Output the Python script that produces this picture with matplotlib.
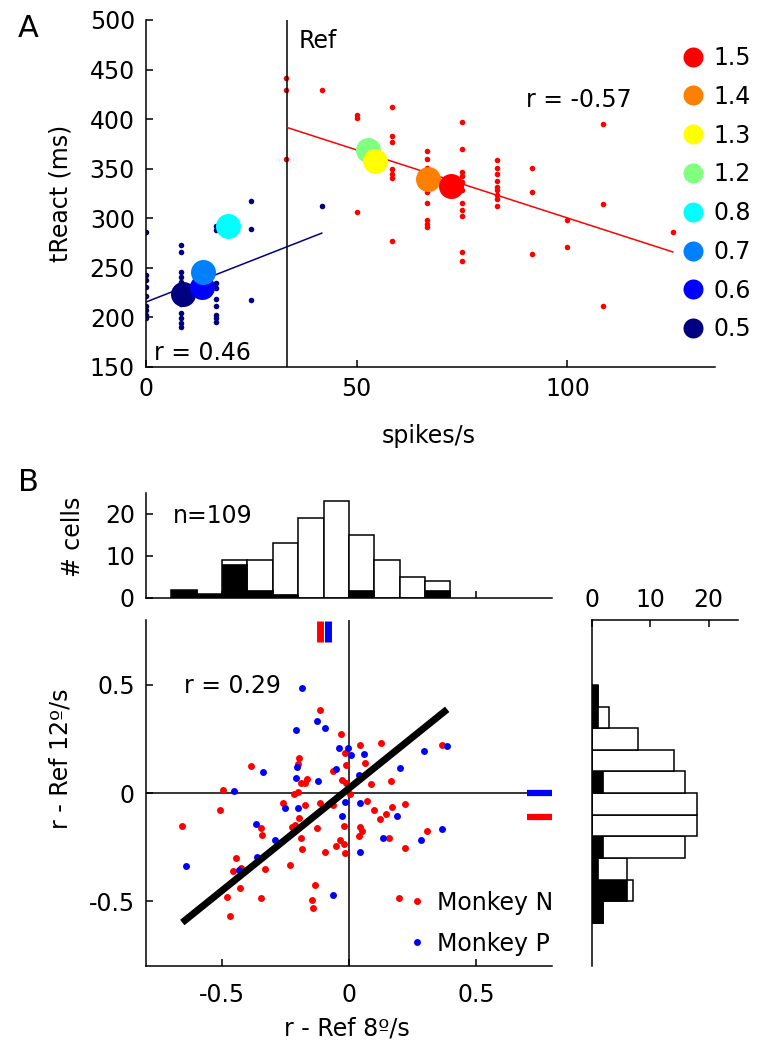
import numpy as np
import matplotlib
matplotlib.use('Agg')
import matplotlib.pyplot as plt

plt.rcParams['font.family'] = ['DejaVu Sans']
plt.rcParams['font.size'] = 17

# ---- Panel A data ----
navy_cols_x = [0, 8.33, 16.67, 25, 41.67]
navy_cols_y = [[286, 243, 238, 231, 222, 212, 207, 202, 199],
               [273, 266, 246, 241, 236, 230, 222, 214, 204, 199, 194, 190],
               [292, 288, 235, 230, 219, 211, 202, 199, 195],
               [317, 289, 218],
               [312]]
red_cols_x = [33.33, 41.67, 50, 58.33, 66.67, 75, 83.33, 91.67, 100, 108.33, 125]
red_cols_y = [[441, 429, 360],
              [429],
              [404, 401, 306],
              [412, 383, 377, 350, 345, 341, 277],
              [368, 360, 351, 339, 326, 315, 298, 294, 291],
              [397, 370, 347, 343, 337, 328, 315, 308, 302, 266, 257],
              [359, 351, 345, 338, 332, 328, 323, 319, 312],
              [351, 326, 264],
              [298, 271],
              [395, 314, 211],
              [286]]
speeds = ['0.5', '0.6', '0.7', '0.8', '1.2', '1.3', '1.4', '1.5']
speed_x = [8.8, 13.3, 13.6, 19.4, 52.7, 54.4, 67.0, 72.4]
speed_y = [224, 231, 246, 292, 369, 358, 340, 333]
speed_colors = ['#000080', '#0000ff', '#0080ff', '#00ffff', '#80ff80', '#ffff00', '#ff8000', '#ff0000']
ref_x = 33.5
navy_fit_x = [0, 41.7]
navy_fit_y = [215.5, 285]
red_fit_x = [33.5, 125]
red_fit_y = [391.5, 266]

# ---- Panel B data ----
bin_edges = [-0.7, -0.6, -0.5, -0.4, -0.3, -0.2, -0.1, 0.0, 0.1, 0.2, 0.3]
top_total = [2, 1, 9, 9, 13, 19, 23, 15, 9, 5, 4]
top_black = [2, 1, 8, 2, 1, 0, 0, 2, 0, 0, 2]
right_edges = [-0.6, -0.5, -0.4, -0.3, -0.2, -0.1, 0.0, 0.1, 0.2, 0.3, 0.4]
right_total = [2, 7, 6, 16, 18, 18, 16, 14, 8, 3, 1]
right_black = [2, 6, 1, 2, 0, 0, 2, 0, 0, 1, 1]

monkN_x = [-0.113, -0.030, 0.042, 0.125, -0.017, -0.198, -0.385, -0.201, -0.013, 0.062,
           -0.063, -0.165, -0.188, -0.175, -0.026, -0.013, 0.088, 0.164, -0.496, -0.201,
           -0.218, 0.003, -0.260, -0.175, -0.116, -0.063, 0.072, 0.171, 0.219, -0.507,
           0.098, 0.144, 0.123, -0.197, -0.657, -0.345, -0.224, -0.214, -0.125, -0.021,
           0.042, 0.052, 0.307, -0.341, -0.188, 0.038, 0.157, -0.185, -0.096, -0.052,
           -0.034, -0.021, -0.017, 0.219, -0.444, -0.424, -0.457, -0.332, -0.232, -0.430,
           -0.135, -0.480, -0.345, -0.144, -0.142, -0.470, 0.196, 0.366]
monkN_y = [0.382, 0.274, 0.222, 0.233, 0.183, 0.163, 0.125, 0.133, 0.129, 0.139,
           0.102, 0.063, 0.048, 0.045, 0.060, 0.048, 0.043, 0.054, 0.014, 0.005,
           -0.006, -0.003, -0.045, -0.055, -0.045, -0.055, -0.037, -0.063, -0.049, -0.080,
           -0.080, -0.099, -0.122, -0.114, -0.153, -0.163, -0.156, -0.148, -0.163, -0.153,
           -0.157, -0.176, -0.176, -0.194, -0.206, -0.199, -0.206, -0.260, -0.271, -0.245,
           -0.219, -0.237, -0.276, -0.256, -0.302, -0.345, -0.361, -0.353, -0.334, -0.438,
           -0.425, -0.481, -0.484, -0.495, -0.530, -0.569, -0.484, 0.222]
monkP_x = [-0.185, -0.127, -0.096, -0.207, -0.039, -0.004, 0.009, 0.059, 0.295, 0.387,
           -0.205, -0.051, 0.202, -0.337, -0.209, -0.122, 0.038, -0.454, -0.017, 0.042,
           -0.252, -0.201, -0.026, 0.189, -0.365, 0.367, -0.290, 0.133, 0.285, 0.042,
           -0.361, -0.644, -0.433, -0.064]
monkP_y = [0.487, 0.333, 0.302, 0.290, 0.210, 0.210, 0.176, 0.182, 0.194, 0.217,
           0.122, 0.112, 0.117, 0.099, 0.071, 0.055, 0.083, 0.009, -0.040, -0.045,
           -0.068, -0.068, -0.106, -0.106, -0.145, -0.168, -0.216, -0.208, -0.216, -0.271,
           -0.294, -0.339, -0.357, -0.473]
fit_x = [-0.657, 0.387]
fit_y = [-0.599, 0.387]
meanN_x, meanP_x = -0.113, -0.083
meanN_y, meanP_y = -0.11, 0.0

fig = plt.figure(figsize=(7.68, 10.5), dpi=100)


def style(ax, left=True, bottom=True, top=False, right=False):
    for s, v in zip(['left', 'bottom', 'top', 'right'], [left, bottom, top, right]):
        ax.spines[s].set_visible(v)
        ax.spines[s].set_linewidth(1.1)
    ax.tick_params(direction='in', length=5, width=1.1)


# ---------- Panel A ----------
axA = fig.add_axes([0.1901, 0.6505, 0.7409, 0.3305])
style(axA)
for cx, cy in zip(navy_cols_x, navy_cols_y):
    axA.plot([cx] * len(cy), cy, 'o', color='#000080', ms=4, mew=0, zorder=2)
for cx, cy in zip(red_cols_x, red_cols_y):
    axA.plot([cx] * len(cy), cy, 'o', color='#ff0000', ms=4, mew=0, zorder=2)
axA.plot(navy_fit_x, navy_fit_y, color='#000080', lw=1.1, zorder=3)
axA.plot(red_fit_x, red_fit_y, color='#ff0000', lw=1.1, zorder=3)
axA.axvline(ref_x, color='k', lw=1.1)
handles = []
for s, x, y, c in zip(speeds, speed_x, speed_y, speed_colors):
    h, = axA.plot(x, y, 'o', color=c, ms=18, mew=0, label=s, zorder=4)
    handles.append(h)
axA.set_xlim(0, 135)
axA.set_ylim(150, 500)
axA.set_xticks([0, 50, 100])
axA.set_yticks(range(150, 501, 50))
axA.tick_params(axis='y', pad=8)
axA.tick_params(axis='x', pad=7)
axA.set_xlabel('spikes/s', va='top')
axA.xaxis.set_label_coords(0.496, -0.165)
axA.set_ylabel('tReact (ms)')
axA.yaxis.set_label_coords(-0.13, 0.5)
axA.text(90.2, 419, 'r = -0.57', va='center')
axA.text(1.9, 164, 'r = 0.46', va='center')
axA.text(36.1, 478.5, 'Ref', va='center')
axA.legend(handles[::-1], speeds[::-1], loc='upper left',
           bbox_to_anchor=(681.2 / 768, 1 - 46 / 1050), bbox_transform=fig.transFigure,
           frameon=False, borderpad=0, borderaxespad=0, handlelength=1.0,
           handletextpad=0.35, labelspacing=0.625, markerscale=0.8)
fig.text(0.023, 0.987, 'A', fontsize=22, va='top')

# ---------- Panel B top histogram ----------
axH = fig.add_axes([0.1901, 0.4305, 0.5286, 0.1])
style(axH)
axH.bar(bin_edges, top_total, width=0.1, align='edge', color='white', edgecolor='k', lw=1.1)
axH.bar(bin_edges, top_black, width=0.1, align='edge', color='k', edgecolor='k', lw=0.5)
axH.set_xlim(-0.8, 0.8)
axH.set_ylim(0, 25)
axH.set_xticks([-0.5, 0, 0.5])
axH.set_xticklabels([])
axH.set_yticks([0, 10, 20])
axH.tick_params(axis='y', pad=8)
axH.set_ylabel('# cells')
axH.yaxis.set_label_coords(-0.15, 0.58)
axH.text(-0.693, 19.6, 'n=109', va='center')
fig.text(0.023, 1 - 468 / 1050, 'B', fontsize=22, va='top')

# ---------- Panel B scatter ----------
axS = fig.add_axes([0.1901, 0.08, 0.5286, 0.3295])
style(axS)
axS.axhline(0, color='k', lw=1.1, zorder=1)
axS.axvline(0, color='k', lw=1.1, zorder=1)
axS.plot(monkN_x, monkN_y, 'o', color='#ff0000', ms=5, mew=0, label='Monkey N', zorder=2)
axS.plot(monkP_x, monkP_y, 'o', color='#0000ff', ms=5, mew=0, label='Monkey P', zorder=2)
axS.plot(fit_x, fit_y, color='k', lw=5, solid_capstyle='butt', zorder=3)
axS.plot([meanN_x, meanN_x], [0.70, 0.795], color='#ff0000', lw=5, solid_capstyle='butt')
axS.plot([meanP_x, meanP_x], [0.70, 0.795], color='#0000ff', lw=5, solid_capstyle='butt')
axS.plot([0.70, 0.80], [meanP_y, meanP_y], color='#0000ff', lw=4.5, solid_capstyle='butt', clip_on=False)
axS.plot([0.70, 0.80], [meanN_y, meanN_y], color='#ff0000', lw=4.5, solid_capstyle='butt', clip_on=False)
axS.set_xlim(-0.8, 0.8)
axS.set_ylim(-0.8, 0.8)
axS.set_xticks([-0.5, 0, 0.5])
axS.set_xticklabels(['-0.5', '0', '0.5'])
axS.set_yticks([-0.5, 0, 0.5])
axS.set_yticklabels(['-0.5', '0', '0.5'])
axS.tick_params(axis='y', pad=8)
axS.tick_params(axis='x', pad=12)
axS.set_xlabel('r - Ref 8º/s', va='top')
axS.xaxis.set_label_coords(0.494, -0.145)
axS.set_ylabel('r - Ref 12º/s')
axS.yaxis.set_label_coords(-0.18, 0.6)
axS.text(-0.65, 0.495, 'r = 0.29', va='center')
axS.legend(loc='upper left', bbox_to_anchor=(405 / 768, 1 - 890.7 / 1050),
           bbox_transform=fig.transFigure, frameon=False, borderpad=0, borderaxespad=0,
           handlelength=1.0, handletextpad=0.35, labelspacing=0.72)

# ---------- Panel B right histogram ----------
axR = fig.add_axes([0.7704, 0.08, 0.1905, 0.3295])
style(axR, left=True, bottom=False, top=True, right=False)
axR.barh(right_edges, right_total, height=0.1, align='edge', color='white', edgecolor='k', lw=1.1)
axR.barh(right_edges, right_black, height=0.1, align='edge', color='k', edgecolor='k', lw=0.5)
axR.set_ylim(-0.8, 0.8)
axR.set_xlim(0, 25)
axR.xaxis.tick_top()
axR.set_xticks([0, 10, 20])
axR.set_yticks([])
axR.tick_params(axis='x', pad=6)

fig.savefig('out.png', dpi=100)
